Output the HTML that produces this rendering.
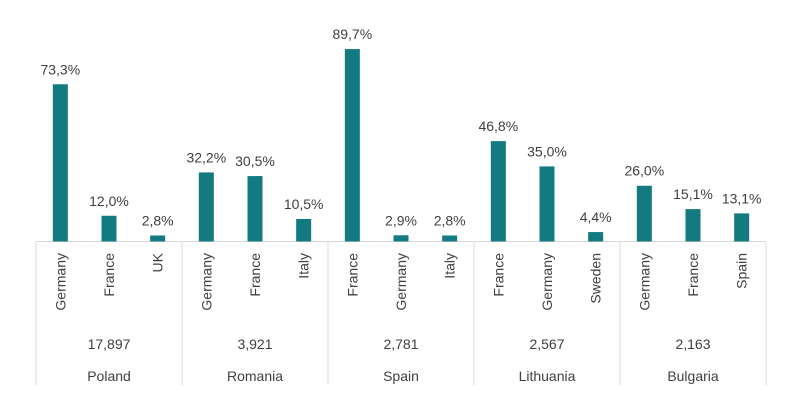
<!DOCTYPE html>
<html><head><meta charset="utf-8"><style>
body{margin:0;background:#fff;}
svg text{font-family:"Liberation Sans",sans-serif;fill:#404040;font-size:14px;}
</style></head><body>
<svg width="793" height="403">
<g id="g"></g>
</svg>
<script>
const countries=["Poland","Romania","Spain","Lithuania","Bulgaria"];
const totals=["17,897","3,921","2,781","2,567","2,163"];
const partners=[["Germany","France","UK"],["Germany","France","Italy"],["France","Germany","Italy"],["France","Germany","Sweden"],["Germany","France","Spain"]];
const values=[[73.3,12.0,2.8],[32.2,30.5,10.5],[89.7,2.9,2.8],[46.8,35.0,4.4],[26.0,15.1,13.1]];
const NS="http://www.w3.org/2000/svg",g=document.getElementById('g');
const x0=36,gw=146,base=241.5,k=2.145,bw=15;
const y=v=>base-v*k;
function el(t,a,txt){const e=document.createElementNS(NS,t);for(const n in a)e.setAttribute(n,a[n]);if(txt!==undefined)e.textContent=txt;g.appendChild(e);return e;}
const ax=el('line',{x1:x0,x2:x0+gw*5,y1:base,y2:base,stroke:'#d9d9d9','stroke-width':1});


for(let i=0;i<=5;i++){
 const s=el('line',{x1:x0+gw*i,x2:x0+gw*i,y1:base,y2:385,stroke:'#d9d9d9','stroke-width':1});
 
 
}
countries.forEach((c,i)=>{
 const gx=x0+gw*i;
 const t1=el('text',{x:gx+gw/2,y:349,'text-anchor':'middle'},totals[i]);
 
 
 const t2=el('text',{x:gx+gw/2,y:381,'text-anchor':'middle'},c);
 
 
 values[i].forEach((v,j)=>{
  const cx=gx+gw/6*(2*j+1);
  const r=el('rect',{x:cx-bw/2,y:y(v),width:bw,height:base-y(v),fill:'#137a7f'});
  
  
  const vl=el('text',{x:cx,y:y(v)-10,'text-anchor':'middle'},v.toFixed(1).replace('.',',')+'%');
  
  
  const pl=el('text',{x:0,y:0,'text-anchor':'end',transform:`translate(${cx+5},253) rotate(-90)`},partners[i][j]);
  
  
 });
});
</script>
</body></html>
